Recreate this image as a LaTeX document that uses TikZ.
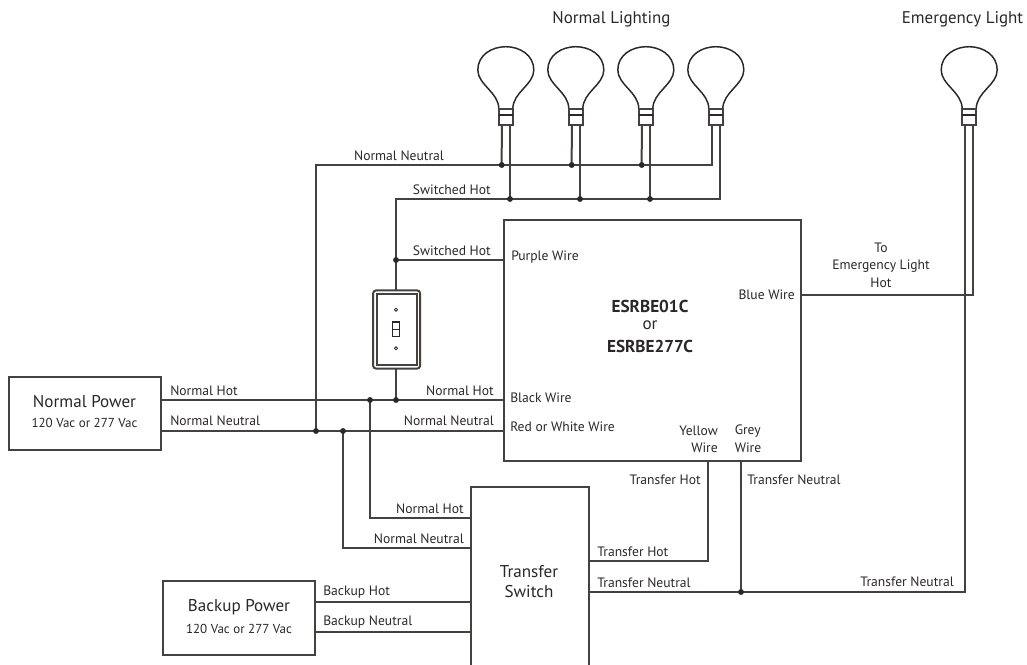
\documentclass[tikz,border=0pt]{standalone}
\usepackage{fontspec}
\usetikzlibrary{backgrounds}
\setmainfont{PT Sans}
\definecolor{ink}{HTML}{2B2728}
\definecolor{wireink}{HTML}{45413F}
\tikzset{
 x=0.75pt,y=-0.75pt,
 wire/.style={draw=wireink,line width=1.5pt},
 box/.style={rectangle,draw=wireink,line width=1.5pt,fill=white,inner sep=0pt,outer sep=0pt},
 lbl/.style={inner sep=0pt,font=\fontsize{10.2}{12}\selectfont,text=ink},
 big/.style={inner sep=0pt,font=\fontsize{12.8}{14}\selectfont,text=ink},
 top/.style={inner sep=0pt,font=\fontsize{12.7}{14}\selectfont,text=ink},
 sml/.style={inner sep=0pt,font=\fontsize{9.75}{12}\selectfont,text=ink},
 dot/.style={circle,fill=ink,inner sep=0pt,minimum size=4.4pt},
 bulbline/.style={draw=ink,line width=1.1pt},
}
\newcommand{\bulb}[2]{% center x, name
 \draw[bulbline] (#1-7,109) .. controls (#1-7,92) and (#1-28,85) .. (#1-28,70)
   .. controls (#1-28,55) and (#1-14,46.7) .. (#1,46.7)
   .. controls (#1+14,46.7) and (#1+28,55) .. (#1+28,70)
   .. controls (#1+28,85) and (#1+7,92) .. (#1+7,109);
 \draw[wire] (#1-7,109) rectangle (#1+7,124.5);
 \draw[bulbline] (#1-7,115) -- (#1+7,115);
 \coordinate (#2l) at (#1-4,124.5);
 \coordinate (#2r) at (#1+4.2,124.5);
}
\begin{document}
\begin{tikzpicture}
\useasboundingbox (0,0) rectangle (1027,664);
% bulbs
\bulb{505.8}{ba}\bulb{575.8}{bb}\bulb{645.8}{bc}\bulb{715.8}{bd}\bulb{969.2}{be}
% boxes
\node[box,minimum width=222.75pt,minimum height=180.75pt] (main) at (652,340.5) {};
\node[box,minimum width=113.8pt,minimum height=55pt] (np) at (85.15,413.35) {};
\node[box,minimum width=113.8pt,minimum height=55.5pt] (bp) at (239.15,618) {};
% transfer switch runs off the bottom of the page
\node[box,minimum width=88.7pt,minimum height=152pt] (ts) at (530.15,588.65) {};
% switch
\node[box,rounded corners=2.5pt,minimum width=35.4pt,minimum height=58.8pt] (sw) at (396.6,329.5) {};
\draw[wire] (376.8,293.8) rectangle (417,365.2);
\draw[draw=ink,line width=0.8pt,fill=white] (392.5,322) rectangle (399.5,336.5);
\draw[draw=ink,line width=0.7pt] (392.5,329.3) -- (399.5,329.3);
\draw[draw=ink,line width=0.6pt] (396,309.7) circle (1.6);
\draw[draw=ink,line width=0.6pt] (396,348.3) circle (1.6);
% dots
\node[dot] (dn1) at (501.7,165) {};
\node[dot] (dn2) at (571.7,165) {};
\node[dot] (dn3) at (641.7,165) {};
\node[dot] (dh1) at (510,199) {};
\node[dot] (dh2) at (580,199) {};
\node[dot] (dh3) at (650,199) {};
\node[dot] (dsw) at (396,260) {};
\node[dot] (dnh) at (396,400) {};
\node[dot] (dnh2) at (370,400) {};
\node[dot] (dnn) at (316,431) {};
\node[dot] (dnn2) at (343,431) {};
\node[dot] (dtn) at (741,592) {};
% free coordinates
\coordinate (c5) at (370,517.7);
\coordinate (c7) at (343,548.3);
\coordinate (m4) at (800,295);
\coordinate (b1) at (315,602.3);
\coordinate (b3) at (315,632.3);
\coordinate (y2) at (708,560.7);
% wires
\begin{scope}[on background layer]
\draw[wire] (bal) -- (dn1.center);
\draw[wire] (bbl) -- (dn2.center);
\draw[wire] (bcl) -- (dn3.center);
\draw[wire] (bar) -- (dh1.center);
\draw[wire] (bbr) -- (dh2.center);
\draw[wire] (bcr) -- (dh3.center);
\draw[wire] (bdl) |- (dnn.center |- dn1.center) -- (dnn.center);
\draw[wire] (bdr) |- (dsw.center |- dh1.center) -- (dsw.center) -- (dsw.center |- sw.north);
\draw[wire] (dsw.center) -- (main.west |- dsw.center);
\draw[wire] (dnh.center |- sw.south) -- (dnh.center);
\draw[wire] (np.east |- dnh.center) -- (main.west |- dnh.center);
\draw[wire] (np.east |- dnn.center) -- (main.west |- dnn.center);
\draw[wire] (dnh2.center) -- (c5) -- (ts.west |- c5);
\draw[wire] (dnn2.center) -- (c7) -- (ts.west |- c7);
\draw[wire] (bp.east |- b1) -- (ts.west |- b1);
\draw[wire] (bp.east |- b3) -- (ts.west |- b3);
\draw[wire] (main.south -| y2) -- (y2) -- (ts.east |- y2);
\draw[wire] (main.south -| dtn.center) -- (dtn.center);
\draw[wire] (ts.east |- dtn.center) -- (dtn.center) -| (bel);
\draw[wire] (main.east |- m4) -| (ber);
\end{scope}
% labels
\node[top] (tnl) at (611.5,19) {Normal Lighting};
\node[top] (tel) at (962.5,19) {Emergency Light};
\node[lbl] (l1) at (399,156) {Normal Neutral};
\node[lbl,anchor=east] (l2) at (491,189.5) {Switched Hot};
\node[lbl,anchor=east] (l3) at (491,250.5) {Switched Hot};
\node[lbl,anchor=west] (l4) at (511,257) {Purple Wire};
\node[lbl,anchor=east] (l5) at (795,295) {Blue Wire};
\node[lbl] (l6a) at (881,248) {To};
\node[lbl] (l6b) at (881,266) {Emergency Light};
\node[lbl] (l6c) at (881,283) {Hot};
\node[big,font=\fontsize{12.9}{14}\selectfont\bfseries] (l7a) at (650,306) {ESRBE01C};
\node[big] (l7b) at (650,325.5) {or};
\node[big,font=\fontsize{12.9}{14}\selectfont\bfseries] (l7c) at (650,346) {ESRBE277C};
\node[lbl,anchor=east] (l8) at (494,390.5) {Normal Hot};
\node[lbl,anchor=east] (l9) at (494,421) {Normal Neutral};
\node[lbl,anchor=west] (l10) at (510,398) {Black Wire};
\node[lbl,anchor=west] (l11) at (510,427) {Red or White Wire};
\node[lbl,anchor=east] (l12a) at (718,431) {Yellow};
\node[lbl,anchor=east] (l12b) at (718,447.5) {Wire};
\node[lbl,anchor=west] (l13a) at (734.5,431) {Grey};
\node[lbl,anchor=west] (l13b) at (734.5,447.5) {Wire};
\node[lbl,anchor=east] (l14) at (701,480) {Transfer Hot};
\node[lbl,anchor=west] (l15) at (747,480) {Transfer Neutral};
\node[lbl,anchor=west] (l16) at (597,552) {Transfer Hot};
\node[lbl,anchor=west] (l17) at (597,583) {Transfer Neutral};
\node[lbl,anchor=east] (l18) at (954,582) {Transfer Neutral};
\node[lbl,anchor=east] (l19) at (464,509) {Normal Hot};
\node[lbl,anchor=east] (l20) at (464,539) {Normal Neutral};
\node[lbl,anchor=west] (l21) at (323,592) {Backup Hot};
\node[lbl,anchor=west] (l22) at (323,622) {Backup Neutral};
\node[lbl,anchor=west] (l23) at (170,390.5) {Normal Hot};
\node[lbl,anchor=west] (l24) at (170,421) {Normal Neutral};
\node[big] (tp1) at (529,571.5) {Transfer};
\node[big] (tp2) at (529,592) {Switch};
\node[big] (np1) at (84.5,402) {Normal Power};
\node[sml] (np2) at (84.5,423) {120 Vac or 277 Vac};
\node[big] (bp1) at (239,607) {Backup Power};
\node[sml] (bp2) at (239,629) {120 Vac or 277 Vac};
\end{tikzpicture}
\end{document}
